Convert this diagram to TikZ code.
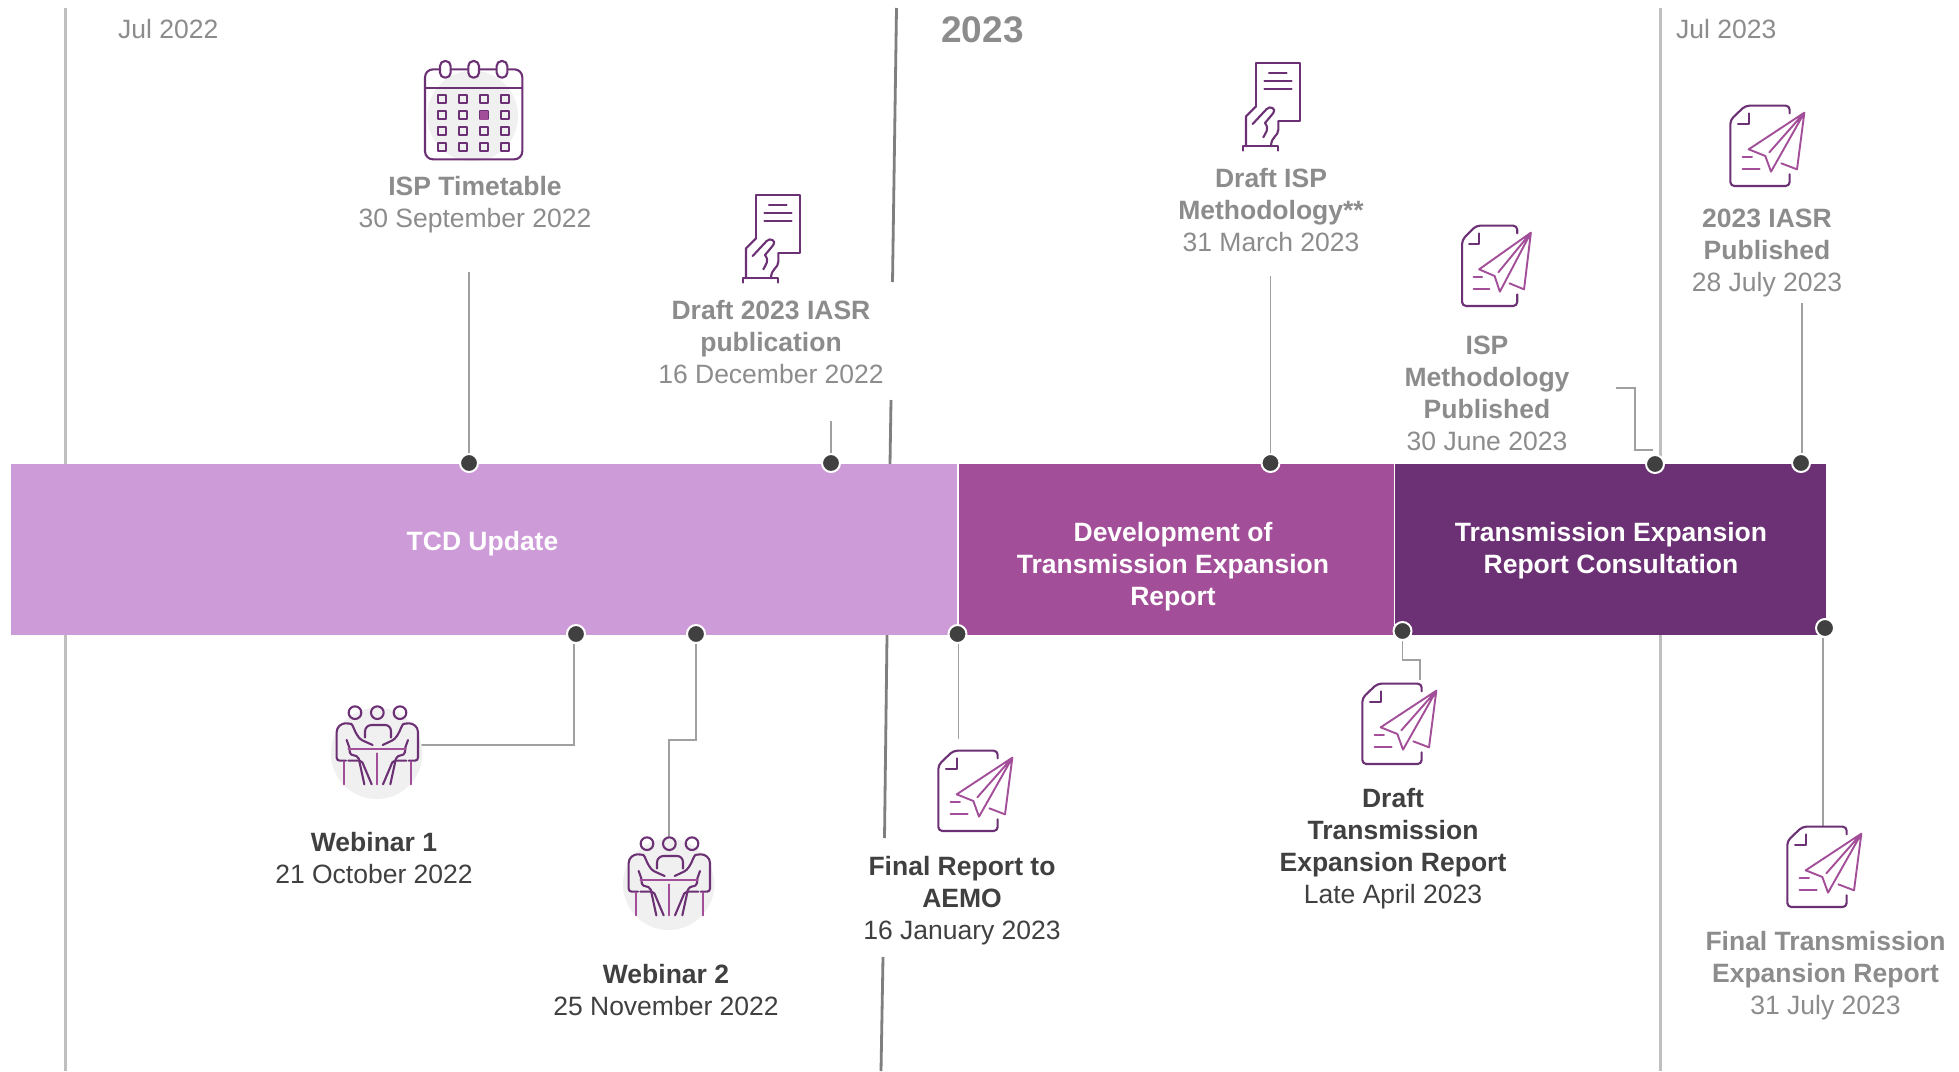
\documentclass[tikz,border=0pt]{standalone}
\usepackage{fontspec}
\setmainfont{Liberation Sans}
\definecolor{barlight}{HTML}{CD9BD8}
\definecolor{barmid}{HTML}{A34E98}
\definecolor{bardark}{HTML}{6C3074}
\definecolor{txtgrey}{HTML}{8C8C8C}
\definecolor{txtdark}{HTML}{404040}
\definecolor{connc}{HTML}{A0A0A0}
\definecolor{monthc}{HTML}{BFBFBF}
\definecolor{yearc}{HTML}{7F7F7F}
\definecolor{iconbg}{HTML}{F0F0F0}
\tikzset{
  x=1pt,y=-1pt,
  lab/.style={align=center,inner sep=0pt,font=\fontsize{26.5}{32}\selectfont},
  greytxt/.style={lab,text=txtgrey},
  darktxt/.style={lab,text=txtdark},
  whitetxt/.style={lab,text=white,font=\fontsize{26.5}{32}\selectfont\bfseries},
  conn/.style={draw=connc,line width=1.5pt},
  monthline/.style={draw=monthc,line width=3pt},
  yearline/.style={draw=yearc,line width=2.8pt},
  dotn/.style={circle,fill=txtdark,draw=white,line width=2pt,minimum size=18pt,inner sep=0pt},
  icond/.style={draw=bardark,line width=2.1pt,line cap=round,line join=round},
  iconl/.style={draw=barmid,line width=1.9pt,line cap=round,line join=round},
  pics/planeicon/.style={code={
    \begin{scope}[scale=1/3]
      \draw[icond,rounded corners=4pt] (233,85) -- (233,62) -- (100,62) -- (55,105) -- (55,303) -- (233,303) -- (233,268);
      \draw[icond] (110,85) -- (110,117) -- (78,117);
      \draw[iconl] (208,235) -- (255,253) -- (277,83) -- (110,193) -- (160,213) -- (177,260) -- (277,83) -- (172,202);
      \draw[iconl] (92,215) -- (120,215) (92,252) -- (143,252);
    \end{scope}}},
  pics/handicon/.style={code={
    \begin{scope}[scale=1/3]
      \draw[icond] (108,175) -- (108,45) -- (240,45) -- (240,220) -- (175,220);
      \draw[icond] (147,76) -- (200,76) (133,100) -- (215,100) (133,123) -- (215,123);
      \draw[icond] (108,175) -- (78,205) -- (78,295);
      \draw[icond] (98,228) -- (140,183) .. controls (150,172) and (170,182) .. (160,195) -- (135,225) .. controls (150,245) and (135,255) .. (130,268);
      \draw[icond] (175,220) -- (175,245) .. controls (175,265) and (153,265) .. (153,295);
      \draw[icond] (68,308) -- (68,295) -- (175,295) -- (175,308);
    \end{scope}}},
  pics/peopleicon/.style={code={
    \begin{scope}[scale=1/3]
      \fill[iconbg] (170,190) circle[radius=137];
      \draw[icond] (105,68) circle[radius=19] (172,68) circle[radius=19] (240,68) circle[radius=19];
      \draw[icond] (135,143) -- (135,125) .. controls (135,112) and (145,105) .. (155,105) -- (195,105) .. controls (205,105) and (213,112) .. (213,125) -- (213,143);
      \draw[icond,rounded corners=3pt] (78,212) -- (50,212) -- (50,135) .. controls (50,110) and (65,100) .. (85,100) .. controls (95,102) and (100,110) .. (105,125) -- (120,148) -- (158,165);
      \draw[icond,rounded corners=2pt] (80,150) -- (90,178) -- (88,192) -- (115,200) -- (133,283);
      \draw[icond,rounded corners=2pt] (85,212) -- (125,212) -- (155,283);
      \draw[icond,rounded corners=3pt] (266,212) -- (294,212) -- (294,135) .. controls (294,110) and (279,100) .. (259,100) .. controls (249,102) and (244,110) .. (239,125) -- (224,148) -- (188,165);
      \draw[icond,rounded corners=2pt] (264,150) -- (254,178) -- (256,192) -- (229,200) -- (211,283);
      \draw[icond,rounded corners=2pt] (259,212) -- (219,212) -- (189,283);
      \draw[iconl] (85,178) -- (258,178);
      \draw[iconl] (172,190) -- (172,283) (72,215) -- (72,283) (272,215) -- (272,283);
    \end{scope}}},
  pics/calicon/.style={code={
    \begin{scope}[scale=1/3]
      \fill[iconbg] (218,228) circle[radius=136];
      \draw[icond,rounded corners=8pt] (75,143) -- (75,88) -- (367,88) -- (367,358) -- (75,358) -- cycle;
      \draw[icond] (75,143) -- (367,143);
      \foreach \cx in {136,221,306} {
        \draw[icond,fill=white,rounded corners=5pt] (\cx-16,63) rectangle (\cx+16,113);
      }
      \foreach \cx in {126,189,252,314} {
        \foreach \cy in {178,226,273,321} {
          \draw[icond,fill=iconbg] (\cx-12,\cy-12) rectangle (\cx+12,\cy+12);
        }
      }
      \fill[barmid] (240,214) rectangle (265,239);
    \end{scope}}},
}
\begin{document}
\begin{tikzpicture}
\useasboundingbox (0,0) rectangle (1959,1071);
\fill[white] (0,0) rectangle (1959,1071);
% month lines
\coordinate (mla) at (65,8);
\coordinate (mlb) at (65,1071);
\coordinate (mra) at (1660.5,8);
\coordinate (mrb) at (1660.5,1071);
\draw[monthline] (mla) -- (mlb);
\draw[monthline] (mra) -- (mrb);
% year line with breaks
\coordinate (ya) at (896.5,8);
\coordinate (yb) at (892.5,282);
\coordinate (yc) at (891,400);
\coordinate (yd) at (890,464);
\coordinate (ye) at (887,635);
\coordinate (yf) at (884.5,838);
\coordinate (yg) at (883,957);
\coordinate (yh) at (881,1071);
\draw[yearline] (ya) -- (yb);
\draw[yearline] (yc) -- (yd);
\draw[yearline] (ye) -- (yf);
\draw[yearline] (yg) -- (yh);
% bars
\node[fill=barlight,draw=none,inner sep=0pt,minimum width=946pt,minimum height=171pt,anchor=north west] (bara) at (11,464) {};
\node[fill=barmid,draw=none,inner sep=0pt,minimum width=435pt,minimum height=171pt,anchor=north west] (barb) at (958.5,464) {};
\node[fill=bardark,draw=none,inner sep=0pt,minimum width=431pt,minimum height=171pt,anchor=north west] (barc) at (1395,464) {};
\node[whitetxt] (ta) at (482.5,544) {TCD Update};
\node[whitetxt] (tb) at (1173,567) {Development of\\Transmission Expansion\\Report};
\node[whitetxt] (tc) at (1611,550.5) {Transmission Expansion\\Report Consultation};
% header labels
\node[greytxt,anchor=west] (jula) at (118,29) {Jul 2022};
\node[lab,text=txtgrey,font=\fontsize{37}{40}\selectfont\bfseries] (year) at (982.5,30) {2023};
\node[greytxt,anchor=west] (julb) at (1676,29) {Jul 2023};
% dots
\node[dotn] (d1) at (469,463) {};
\node[dotn] (d2) at (831,463) {};
\node[dotn] (d3) at (1270.5,463) {};
\node[dotn] (d4) at (1655,464) {};
\node[dotn] (d5) at (1801,463) {};
\node[dotn] (d6) at (576,634) {};
\node[dotn] (d7) at (696,634) {};
\node[dotn] (d8) at (957.5,634) {};
\node[dotn] (d9) at (1402.5,631) {};
\node[dotn] (d10) at (1825,628) {};
% connector ends
\coordinate (c1) at (469,272);
\coordinate (c2) at (831,421);
\coordinate (c3) at (1270.5,276);
\coordinate (c4a) at (1616,388);
\coordinate (c4b) at (1635,388);
\coordinate (c4c) at (1635,450);
\coordinate (c4d) at (1653,450);
\coordinate (c5) at (1802,303);
\coordinate (c6a) at (574,745);
\coordinate (c6b) at (421,745);
\coordinate (c7a) at (696,740);
\coordinate (c7b) at (669,740);
\coordinate (c7c) at (669,838);
\coordinate (c8) at (958.5,739);
\coordinate (c9a) at (1402.5,660);
\coordinate (c9b) at (1420,660);
\coordinate (c9c) at (1420,680);
\coordinate (c10) at (1823,827);
\draw[conn] (c1) -- (d1.north);
\draw[conn] (c2) -- (d2.north);
\draw[conn] (c3) -- (d3.north);
\draw[conn] (c4a) -- (c4b) -- (c4c) -- (c4d);
\draw[conn] (c5) -- (d5.north -| c5);
\draw[conn] (d6.south -| c6a) -- (c6a) -- (c6b);
\draw[conn] (d7.south) -- (c7a) -- (c7b) -- (c7c);
\draw[conn] (d8.south -| c8) -- (c8);
\draw[conn] (d9.south) -- (c9a) -- (c9b) -- (c9c);
\draw[conn] (d10.south -| c10) -- (c10);
% icons
\pic (cal) at (400,40) {calicon};
\pic (h1) at (720,180) {handicon};
\pic (h2) at (1220,48) {handicon};
\pic (pp1) at (320,690) {peopleicon};
\pic (pp2) at (612,821) {peopleicon};
\pic (pl1) at (920,730) {planeicon};
\pic (pl2) at (1344,663) {planeicon};
\pic[xscale=0.93] (pl3) at (1445,205) {planeicon};
\pic (pl4) at (1712,85) {planeicon};
\pic (pl5) at (1769,806) {planeicon};
% labels
\node[greytxt] (l1) at (475,205) {\textbf{ISP Timetable}\\30 September 2022};
\node[greytxt] (l2) at (771,342) {\textbf{Draft 2023 IASR}\\\textbf{publication}\\16 December 2022};
\node[greytxt] (l3) at (1271,210) {\textbf{Draft ISP}\\\textbf{Methodology**}\\31 March 2023};
\node[greytxt] (l4) at (1487,393) {\textbf{ISP}\\\textbf{Methodology}\\\textbf{Published}\\30 June 2023};
\node[greytxt] (l5) at (1767,252.5) {\textbf{2023 IASR}\\\textbf{Published}\\28 July 2023};
\node[darktxt] (l6) at (374,858) {\textbf{Webinar 1}\\21 October 2022};
\node[darktxt] (l7) at (666,990) {\textbf{Webinar 2}\\25 November 2022};
\node[darktxt] (l8) at (962,901) {\textbf{Final Report to}\\\textbf{AEMO}\\16 January 2023};
\node[darktxt] (l9) at (1393,848.5) {\textbf{Draft}\\\textbf{Transmission}\\\textbf{Expansion Report}\\Late April 2023};
\node[greytxt] (l10) at (1825.5,975.5) {\textbf{Final Transmission}\\\textbf{Expansion Report}\\31 July 2023};
\end{tikzpicture}
\end{document}
